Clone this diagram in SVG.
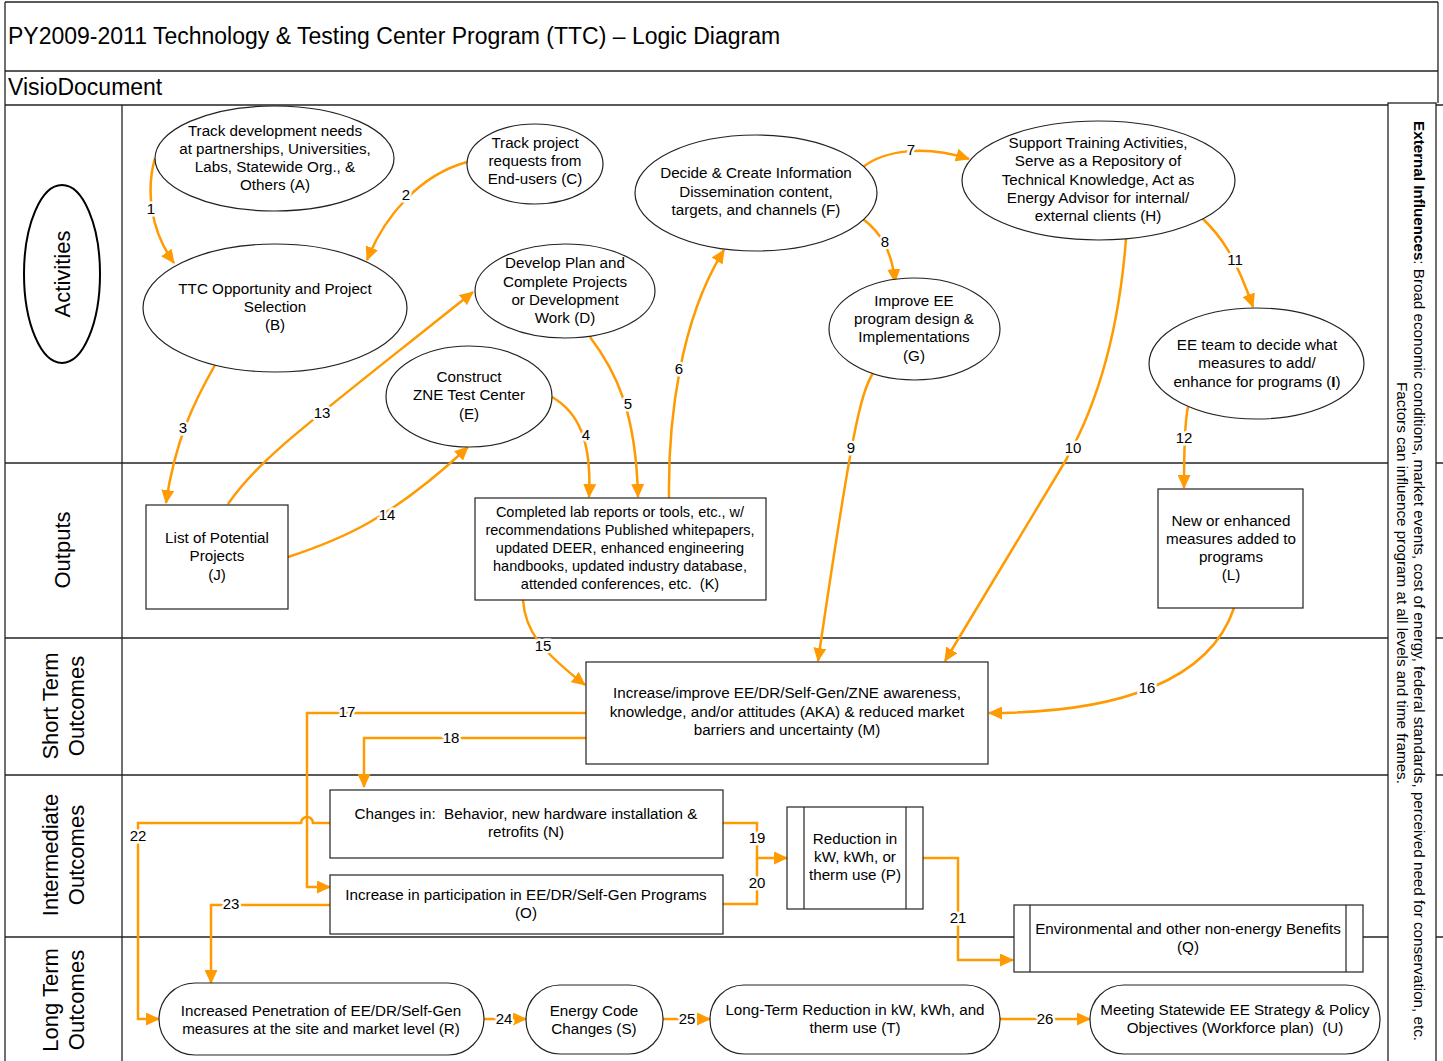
<svg xmlns="http://www.w3.org/2000/svg" width="1443" height="1061" viewBox="0 0 1443 1061">
<defs>
<style>
.t{font-family:"Liberation Sans",Arial,sans-serif;font-size:15.2px;fill:#000;text-anchor:middle}
.k{font-size:14.5px}
.lane{font-family:"Liberation Sans",Arial,sans-serif;font-size:22px;fill:#000;text-anchor:middle}
.node{fill:#fff;stroke:#222;stroke-width:1.2}
.frame{fill:none;stroke:#222;stroke-width:1.3}
.c{fill:none;stroke:#FF9A00;stroke-width:2.5}
.lbl{font-family:"Liberation Sans",Arial,sans-serif;font-size:15px;fill:#000;text-anchor:middle;stroke:#fff;stroke-width:5;paint-order:stroke;stroke-linejoin:round}
</style>
<marker id="ah" markerWidth="14" markerHeight="13" refX="13" refY="6.5" orient="auto" markerUnits="userSpaceOnUse">
<path d="M0,0 L14,6.5 L0,13 z" fill="#FF9A00"/>
</marker>
</defs>
<rect width="1443" height="1061" fill="#fff"/>
<g id="frame">
<line class="frame" x1="5" y1="2" x2="1438" y2="2"/>
<line class="frame" x1="5" y1="2" x2="5" y2="1061"/>
<line class="frame" x1="1438" y1="2" x2="1438" y2="103"/>
<line class="frame" x1="5" y1="71" x2="1438" y2="71"/>
<line class="frame" x1="5" y1="105" x2="1443" y2="105"/>
<line class="frame" x1="122" y1="105" x2="122" y2="1061"/>
<line class="frame" x1="5" y1="463" x2="1443" y2="463"/>
<line class="frame" x1="5" y1="638" x2="1443" y2="638"/>
<line class="frame" x1="5" y1="775" x2="1443" y2="775"/>
<line class="frame" x1="5" y1="937" x2="1443" y2="937"/>
<text x="8" y="44" font-family="Liberation Sans, Arial, sans-serif" font-size="23">PY2009-2011 Technology &amp; Testing Center Program (TTC) – Logic Diagram</text>
<text x="8" y="95" font-family="Liberation Sans, Arial, sans-serif" font-size="23">VisioDocument</text>
</g>
<g id="lanes">
<ellipse cx="62" cy="274" rx="38" ry="89" fill="#fff" stroke="#000" stroke-width="2"/>
<text class="lane" transform="translate(70,274) rotate(-90)">Activities</text>
<text class="lane" transform="translate(70,550) rotate(-90)">Outputs</text>
<text class="lane" transform="translate(58,706) rotate(-90)">Short Term</text>
<text class="lane" transform="translate(84,706) rotate(-90)">Outcomes</text>
<text class="lane" transform="translate(58,855) rotate(-90)">Intermediate</text>
<text class="lane" transform="translate(84,855) rotate(-90)">Outcomes</text>
<text class="lane" transform="translate(58,1000) rotate(-90)">Long Term</text>
<text class="lane" transform="translate(84,1000) rotate(-90)">Outcomes</text>
</g>
<g id="external">
<rect x="1388" y="103" width="48" height="960" fill="#fff" stroke="#222" stroke-width="1.3"/>
<text transform="translate(1414,581) rotate(90)" font-family="Liberation Sans, Arial, sans-serif" font-size="15.2" text-anchor="middle"><tspan font-weight="bold">External Influences</tspan>: Broad economic conditions, market events, cost of energy, federal standards, perceived need for conservation, etc.</text>
<text transform="translate(1397,583) rotate(90)" font-family="Liberation Sans, Arial, sans-serif" font-size="15.2" text-anchor="middle">Factors can influence program at all levels and time frames.</text>
</g>
<g id="connectors">
<path class="c" marker-end="url(#ah)" d="M155,158 C146,190 150,230 174,263"/>
<path class="c" marker-end="url(#ah)" d="M467,162 C420,175 385,215 367,260"/>
<path class="c" marker-end="url(#ah)" d="M215,365 C195,400 175,440 166,503"/>
<path class="c" marker-end="url(#ah)" d="M552,397 C578,412 592,440 589,497"/>
<path class="c" marker-end="url(#ah)" d="M590,337 C615,370 636,410 638,497"/>
<path class="c" marker-end="url(#ah)" d="M669,498 C668,420 680,320 724,250"/>
<path class="c" marker-end="url(#ah)" d="M863,167 C885,150 925,145 969,159"/>
<path class="c" marker-end="url(#ah)" d="M863,219 C880,232 892,250 895,282"/>
<path class="c" marker-end="url(#ah)" d="M873,373 C860,395 852,430 818,661"/>
<path class="c" marker-end="url(#ah)" d="M1126,239 Q1115,380 1060,470 L945,661"/>
<path class="c" marker-end="url(#ah)" d="M1202,218 C1220,235 1235,255 1253,307"/>
<path class="c" marker-end="url(#ah)" d="M1188,407 C1185,420 1184,440 1184,488"/>
<path class="c" marker-end="url(#ah)" d="M228,504 C260,458 300,430 473,292"/>
<path class="c" marker-end="url(#ah)" d="M288,557 C340,540 390,520 468,447"/>
<path class="c" marker-end="url(#ah)" d="M523,600 C525,630 540,650 585,685"/>
<path class="c" marker-end="url(#ah)" d="M1234,608 C1210,680 1120,713 989,713"/>
<path class="c" marker-end="url(#ah)" d="M586,713 H307 V887 H330"/>
<path class="c" marker-end="url(#ah)" d="M586,738 H364 V787"/>
<path class="c" marker-end="url(#ah)" d="M723,823 H757 V858 H787"/>
<path class="c" d="M723,904 H757 V858"/>
<path class="c" marker-end="url(#ah)" d="M923,858 H958 V960 H1013"/>
<path class="c" marker-end="url(#ah)" d="M330,823 H313 A6,6 0 0 0 301,823 H138 V1019 H159"/>
<path class="c" marker-end="url(#ah)" d="M330,905 H211 V983"/>
<path class="c" marker-end="url(#ah)" d="M484,1019 H526"/>
<path class="c" marker-end="url(#ah)" d="M663,1019 H710"/>
<path class="c" marker-end="url(#ah)" d="M1000,1019 H1090"/>
<text class="lbl" x="151" y="214">1</text>
<text class="lbl" x="406" y="200">2</text>
<text class="lbl" x="183" y="433">3</text>
<text class="lbl" x="586" y="440">4</text>
<text class="lbl" x="628" y="409">5</text>
<text class="lbl" x="679" y="374">6</text>
<text class="lbl" x="911" y="155">7</text>
<text class="lbl" x="885" y="247">8</text>
<text class="lbl" x="851" y="453">9</text>
<text class="lbl" x="1073" y="453">10</text>
<text class="lbl" x="1235" y="265">11</text>
<text class="lbl" x="1184" y="443">12</text>
<text class="lbl" x="322" y="418">13</text>
<text class="lbl" x="387" y="520">14</text>
<text class="lbl" x="543" y="651">15</text>
<text class="lbl" x="1147" y="693">16</text>
<text class="lbl" x="347" y="717">17</text>
<text class="lbl" x="451" y="743">18</text>
<text class="lbl" x="757" y="843">19</text>
<text class="lbl" x="757" y="888">20</text>
<text class="lbl" x="958" y="923">21</text>
<text class="lbl" x="138" y="841">22</text>
<text class="lbl" x="231" y="909">23</text>
<text class="lbl" x="504" y="1024">24</text>
<text class="lbl" x="687" y="1024">25</text>
<text class="lbl" x="1045" y="1024">26</text>
</g>
<g id="A"><ellipse class="node" cx="274.5" cy="158.5" rx="119.5" ry="52.5"/>
<text class="t" x="275" y="136">Track development needs</text><text class="t" x="275" y="154">at partnerships, Universities,</text><text class="t" x="275" y="172">Labs, Statewide Org., &amp;</text><text class="t" x="275" y="190">Others (A)</text></g>
<g id="C"><ellipse class="node" cx="535" cy="164" rx="68" ry="40"/>
<text class="t" x="535" y="148">Track project</text><text class="t" x="535" y="166">requests from</text><text class="t" x="535" y="184">End-users (C)</text></g>
<g id="B"><ellipse class="node" cx="275" cy="308" rx="132" ry="64"/>
<text class="t" x="275" y="294">TTC Opportunity and Project</text><text class="t" x="275" y="312">Selection</text><text class="t" x="275" y="330">(B)</text></g>
<g id="D"><ellipse class="node" cx="565" cy="291" rx="90" ry="47"/>
<text class="t" x="565" y="268">Develop Plan and</text><text class="t" x="565" y="287">Complete Projects</text><text class="t" x="565" y="305">or Development</text><text class="t" x="565" y="323">Work (D)</text></g>
<g id="E"><ellipse class="node" cx="469" cy="396.5" rx="83" ry="50.5"/>
<text class="t" x="469" y="382">Construct</text><text class="t" x="469" y="400">ZNE Test Center</text><text class="t" x="469" y="419">(E)</text></g>
<g id="F"><ellipse class="node" cx="756" cy="193" rx="121" ry="58"/>
<text class="t" x="756" y="178">Decide &amp; Create Information</text><text class="t" x="756" y="197">Dissemination content,</text><text class="t" x="756" y="215">targets, and channels (F)</text></g>
<g id="G"><ellipse class="node" cx="914.5" cy="329" rx="85.5" ry="51"/>
<text class="t" x="914" y="306">Improve EE</text><text class="t" x="914" y="324">program design &amp;</text><text class="t" x="914" y="342">Implementations</text><text class="t" x="914" y="361">(G)</text></g>
<g id="H"><ellipse class="node" cx="1098.5" cy="180.5" rx="136.5" ry="59.5"/>
<text class="t" x="1098" y="148">Support Training Activities,</text><text class="t" x="1098" y="166">Serve as a Repository of</text><text class="t" x="1098" y="185">Technical Knowledge, Act as</text><text class="t" x="1098" y="203">Energy Advisor for internal/</text><text class="t" x="1098" y="221">external clients (H)</text></g>
<g id="I"><ellipse class="node" cx="1256.5" cy="363.5" rx="107.5" ry="55.5"/>
<text class="t" x="1257" y="350">EE team to decide what</text><text class="t" x="1257" y="368">measures to add/</text><text class="t" x="1257" y="387">enhance for programs (<tspan font-weight="bold">I</tspan>)</text></g>
<g id="J"><rect class="node" x="146" y="505" width="142" height="104"/>
<text class="t" x="217" y="543">List of Potential</text><text class="t" x="217" y="561">Projects</text><text class="t" x="217" y="580">(J)</text></g>
<g id="K"><rect class="node" x="475" y="498" width="291" height="102"/>
<text class="t k" x="620" y="517">Completed lab reports or tools, etc., w/</text><text class="t k" x="620" y="535">recommendations Published whitepapers,</text><text class="t k" x="620" y="553">updated DEER, enhanced engineering</text><text class="t k" x="620" y="571">handbooks, updated industry database,</text><text class="t k" x="620" y="589" xml:space="preserve">attended conferences, etc.  (K)</text></g>
<g id="L"><rect class="node" x="1158" y="489" width="145" height="119"/>
<text class="t" x="1231" y="526">New or enhanced</text><text class="t" x="1231" y="544">measures added to</text><text class="t" x="1231" y="562">programs</text><text class="t" x="1231" y="580">(L)</text></g>
<g id="M"><rect class="node" x="586" y="662" width="402" height="102"/>
<text class="t" x="787" y="698">Increase/improve EE/DR/Self-Gen/ZNE awareness,</text><text class="t" x="787" y="717">knowledge, and/or attitudes (AKA) &amp; reduced market</text><text class="t" x="787" y="735">barriers and uncertainty (M)</text></g>
<g id="N"><rect class="node" x="330" y="790" width="393" height="68"/>
<text class="t" x="526" y="819" xml:space="preserve">Changes in:  Behavior, new hardware installation &amp;</text><text class="t" x="526" y="837">retrofits (N)</text></g>
<g id="O"><rect class="node" x="330" y="875" width="393" height="59"/>
<text class="t" x="526" y="900">Increase in participation in EE/DR/Self-Gen Programs</text><text class="t" x="526" y="918">(O)</text></g>
<g id="P"><rect class="node" x="787" y="807" width="136" height="102"/><line class="node" x1="804" y1="807" x2="804" y2="909"/><line class="node" x1="906" y1="807" x2="906" y2="909"/>
<text class="t" x="855" y="844">Reduction in</text><text class="t" x="855" y="862">kW, kWh, or</text><text class="t" x="855" y="880">therm use (P)</text></g>
<g id="Q"><rect class="node" x="1014" y="905" width="349" height="67"/><line class="node" x1="1030" y1="905" x2="1030" y2="972"/><line class="node" x1="1346" y1="905" x2="1346" y2="972"/>
<text class="t" x="1188" y="934">Environmental and other non-energy Benefits</text><text class="t" x="1188" y="952">(Q)</text></g>
<g id="R"><rect class="node" x="159" y="983" width="325" height="72" rx="36" ry="36"/>
<text class="t" x="321" y="1016">Increased Penetration of EE/DR/Self-Gen</text><text class="t" x="321" y="1034">measures at the site and market level (R)</text></g>
<g id="S"><rect class="node" x="526" y="985" width="137" height="69" rx="34" ry="34"/>
<text class="t" x="594" y="1016">Energy Code</text><text class="t" x="594" y="1034">Changes (S)</text></g>
<g id="T"><rect class="node" x="710" y="985" width="290" height="69" rx="34" ry="34"/>
<text class="t" x="855" y="1015">Long-Term Reduction in kW, kWh, and</text><text class="t" x="855" y="1033">therm use (T)</text></g>
<g id="U"><rect class="node" x="1090" y="985" width="290" height="69" rx="34" ry="34"/>
<text class="t" x="1235" y="1015">Meeting Statewide EE Strategy &amp; Policy</text><text class="t" x="1235" y="1033" xml:space="preserve">Objectives (Workforce plan)  (U)</text></g>
</svg>
